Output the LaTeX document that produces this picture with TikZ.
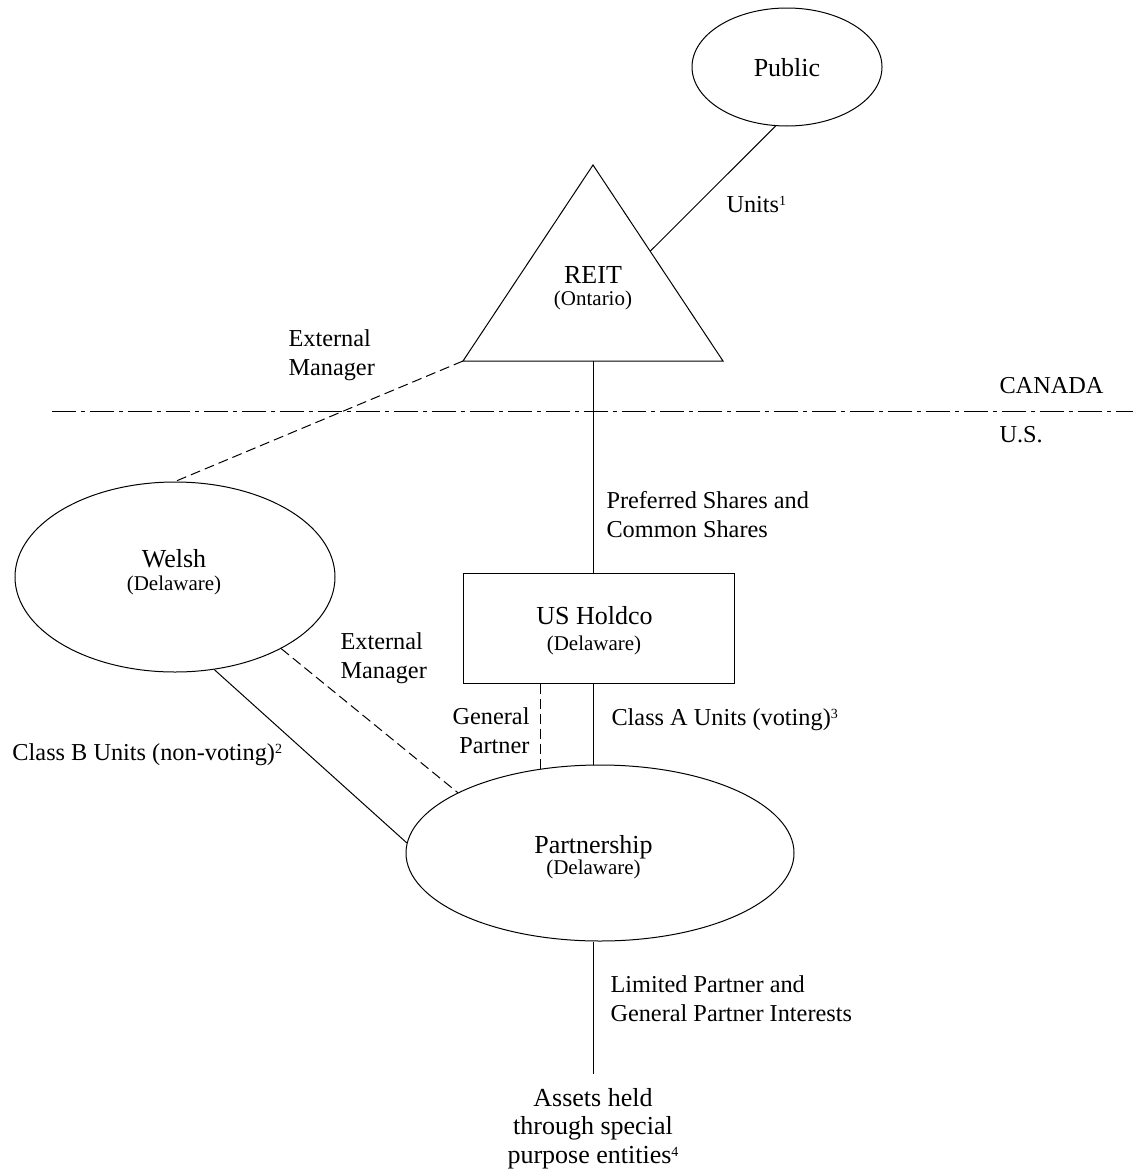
\documentclass[tikz,border=0pt]{standalone}
\usepackage{fontspec}
\setmainfont{Liberation Serif}
\usetikzlibrary{shapes.geometric,calc}
\newcommand\supr[1]{\raisebox{7pt}{\fontsize{14}{14}\selectfont #1}}
\begin{document}
\begin{tikzpicture}[x=1pt,y=-1pt,line width=1pt,
  ent/.style={ellipse, draw, inner sep=0pt},
  ttl/.style={font=\fontsize{26}{31}\selectfont, inner sep=0pt},
  subt/.style={font=\fontsize{21}{25}\selectfont, inner sep=0pt},
  lbl/.style={font=\fontsize{24.3}{29}\selectfont, align=left, inner sep=0pt},
  dashedline/.style={dash pattern=on 10pt off 5pt},
  borderline/.style={dash pattern=on 24pt off 5pt on 4pt off 5pt}]
\useasboundingbox (0,0) rectangle (1133,1175);

% Public
\node[ent, minimum width=190pt, minimum height=118pt] (pub) at (787,67) {};
\node[ttl, anchor=base] (pubt) at (787,76) {Public};

% REIT triangle
\coordinate (reitT) at (593,165);
\coordinate (reitL) at (463,361);
\coordinate (reitR) at (723,361);
\coordinate (reitB) at (593,361);
\draw (reitT) -- (reitR) -- (reitL) -- cycle;
\node[ttl, anchor=base] (reit) at (593,283) {REIT};
\node[subt, anchor=base] (reitsub) at (593,305) {(Ontario)};

% US Holdco
\node[draw, minimum width=271pt, minimum height=110pt, inner sep=0pt] (hold) at (598.5,628) {};
\node[ttl, anchor=base] (holdt) at (594.5,624) {US Holdco};
\node[subt, anchor=base] (holds) at (594,650) {(Delaware)};

% Welsh
\node[ent, minimum width=320pt, minimum height=190pt] (welsh) at (175,577) {};
\node[ttl, anchor=base] (welsht) at (174,567) {Welsh};
\node[subt, anchor=base] (welshs) at (174,590) {(Delaware)};

% Partnership
\node[ent, minimum width=388pt, minimum height=176pt] (part) at (600,853) {};
\node[ttl, anchor=base] (partt) at (593.5,853) {Partnership};
\node[subt, anchor=base] (parts) at (593.5,874) {(Delaware)};

% Assets (base anchor = baseline of last line)
\node[font=\fontsize{26}{28.5}\selectfont, align=center, inner xsep=0pt, inner ysep=13pt, anchor=base] (assets) at (593,1163)
  {Assets held\\through special\\purpose entities\supr{4}};

% Border line
\coordinate (bL) at (52,411);
\coordinate (bR) at (1133,411);
\draw[borderline] (bL) -- (bR);
\node[lbl, anchor=base west] (canada) at (999,393) {CANADA};
\node[lbl, anchor=base west] (us) at (999,442) {U.S.};

% Labels (multi-line: base anchor = baseline of last line)
\node[lbl, anchor=base west] (lunits) at (726,212) {Units\supr{1}};
\node[lbl, anchor=base west] (lext1) at (288,375) {External\\Manager};
\node[lbl, anchor=base west] (lpref) at (606,537) {Preferred Shares and\\Common Shares};
\node[lbl, anchor=base west] (lext2) at (340,678) {External\\Manager};
\node[lbl, anchor=base west] (lclassb) at (12,760) {Class B Units (non-voting)\supr{2}};
\node[lbl, align=right, anchor=base east] (lgp) at (530,753) {General\\Partner};
\node[lbl, anchor=base west] (lclassa) at (611,725) {Class A Units (voting)\supr{3}};
\node[lbl, anchor=base west] (llp) at (610,1021) {Limited Partner and\\General Partner Interests};

% Connectors
\draw (pub.-101.5) -- ($(reitT)!0.44!(reitR)$);
\draw[dashedline] (reitL) -- (welsh.north);
\draw (reitB) -- (reitB |- hold.north);
\coordinate (gpA) at ($(hold.south west)!0.288!(hold.south east)$);
\draw[dashedline] (gpA) -- (gpA |- part.125);
\draw (reitB |- hold.south) -- (reitB |- part.north);
\draw (welsh.-67) -- (part.177);
\draw[dashedline] (welsh.-34) -- (part.157);
\draw (reitB |- part.south) -- (reitB |- assets.north);
\end{tikzpicture}
\end{document}
